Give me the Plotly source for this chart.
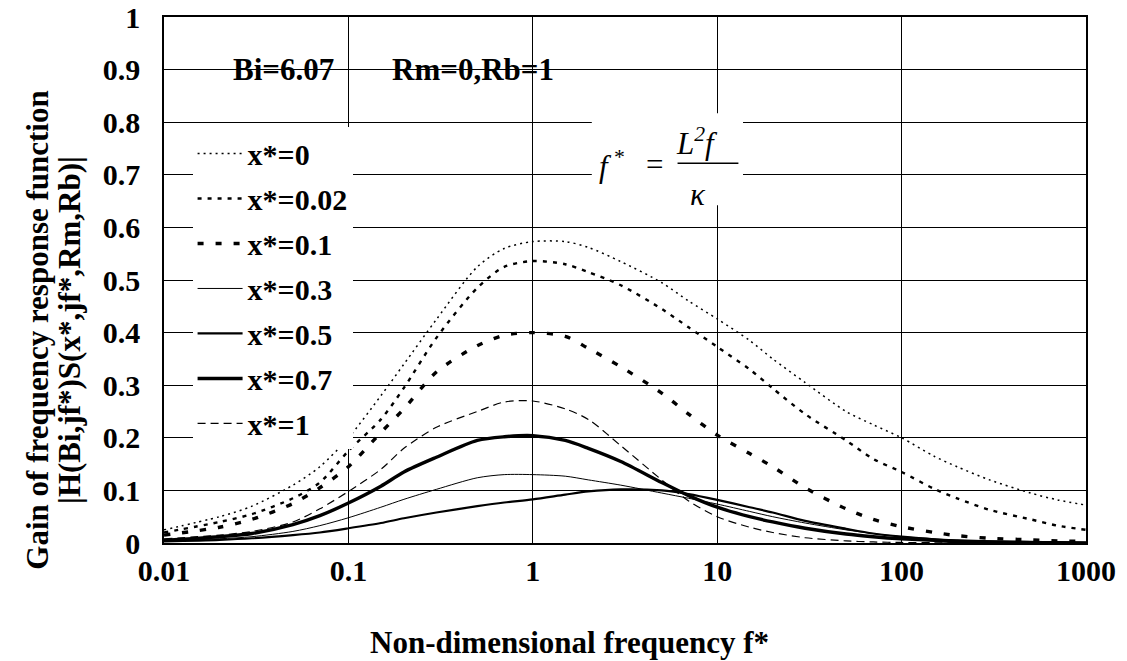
import plotly.graph_objects as go

f_star = [0.01, 0.02, 0.03, 0.05, 0.07, 0.1, 0.15, 0.2, 0.3, 0.5, 0.7, 1, 1.5, 2, 3, 5, 7,
          10, 15, 20, 30, 50, 70, 100, 150, 200, 300, 500, 700, 1000]

gain_x0 = [0.025, 0.05, 0.07, 0.11, 0.145, 0.20, 0.28, 0.34, 0.425, 0.525, 0.56, 0.573, 0.573,
           0.562, 0.535, 0.495, 0.46, 0.426, 0.385, 0.35, 0.305, 0.25, 0.225, 0.20, 0.165,
           0.145, 0.12, 0.095, 0.082, 0.072]
gain_x002 = [0.02, 0.04, 0.055, 0.085, 0.115, 0.175, 0.235, 0.295, 0.39, 0.485, 0.525, 0.536,
             0.53, 0.515, 0.49, 0.445, 0.41, 0.373, 0.33, 0.294, 0.245, 0.195, 0.16, 0.135,
             0.103, 0.085, 0.063, 0.045, 0.033, 0.025]
gain_x01 = [0.015, 0.03, 0.045, 0.075, 0.105, 0.145, 0.21, 0.255, 0.325, 0.375, 0.395, 0.40,
            0.393, 0.37, 0.335, 0.285, 0.245, 0.205, 0.17, 0.145, 0.105, 0.065, 0.045, 0.031,
            0.02, 0.014, 0.009, 0.006, 0.004, 0.003]
gain_x03 = [0.004, 0.008, 0.012, 0.022, 0.033, 0.048, 0.068, 0.083, 0.102, 0.124, 0.13, 0.13,
            0.127, 0.12, 0.11, 0.095, 0.085, 0.074, 0.06, 0.05, 0.038, 0.025, 0.018, 0.012,
            0.008, 0.005, 0.003, 0.0015, 0.001, 0.0005]
gain_x05 = [0.003, 0.006, 0.009, 0.015, 0.02, 0.028, 0.038, 0.047, 0.058, 0.07, 0.077, 0.083,
            0.092, 0.098, 0.102, 0.10, 0.093, 0.082, 0.068, 0.058, 0.042, 0.027, 0.018, 0.012,
            0.007, 0.005, 0.003, 0.0015, 0.001, 0.0005]
gain_x07 = [0.005, 0.012, 0.018, 0.035, 0.052, 0.076, 0.108, 0.135, 0.163, 0.195, 0.202, 0.204,
            0.195, 0.18, 0.155, 0.115, 0.09, 0.068, 0.05, 0.04, 0.028, 0.017, 0.012, 0.008,
            0.005, 0.003, 0.002, 0.001, 0.0005, 0.0003]
gain_x1 = [0.008, 0.015, 0.022, 0.04, 0.065, 0.098, 0.14, 0.18, 0.22, 0.25, 0.268, 0.27, 0.255,
           0.235, 0.185, 0.12, 0.08, 0.05, 0.03, 0.02, 0.01, 0.004, 0.002, 0.001, 0.0005,
           0.0003, 0.0002, 0.0001, 0.0001, 0.0001]

series_names = ["x*=0", "x*=0.02", "x*=0.1", "x*=0.3", "x*=0.5", "x*=0.7", "x*=1"]
series_values = [gain_x0, gain_x002, gain_x01, gain_x03, gain_x05, gain_x07, gain_x1]
series_styles = [
    dict(width=1.5, dash="2px,4px"),
    dict(width=2.4, dash="4px,6px"),
    dict(width=3.4, dash="6px,12px"),
    dict(width=1.0, dash="solid"),
    dict(width=2.2, dash="solid"),
    dict(width=3.4, dash="solid"),
    dict(width=1.2, dash="8px,5px"),
]

x_tick_vals = [0.01, 0.1, 1, 10, 100, 1000]
x_tick_text = ["0.01", "0.1", "1", "10", "100", "1000"]
y_tick_vals = [0, 0.1, 0.2, 0.3, 0.4, 0.5, 0.6, 0.7, 0.8, 0.9, 1]
y_tick_text = ["0", "0.1", "0.2", "0.3", "0.4", "0.5", "0.6", "0.7", "0.8", "0.9", "1"]

x_title = "Non-dimensional frequency f*"
y_title_lines = ["Gain of frequency response function", "|H(Bi,jf*)S(x*,jf*,Rm,Rb)|"]

SERIF = "Liberation Serif"

fig = go.Figure()
for i, (name, vals, st) in enumerate(zip(series_names, series_values, series_styles)):
    fig.add_trace(go.Scatter(
        x=f_star, y=vals, mode="lines", name=name, legendgroup=f"g{i}",
        line=dict(color="black", width=st["width"], dash=st["dash"], shape="spline",
                  smoothing=0.8),
    ))

# white box behind the formula
fig.add_shape(type="rect", xref="paper", yref="paper", x0=0.464, x1=0.628, y0=0.642, y1=0.817,
              fillcolor="white", line=dict(width=0), layer="above")
# fraction bar
fig.add_shape(type="line", xref="paper", yref="paper", x0=0.557, x1=0.623, y0=0.722, y1=0.722,
              line=dict(color="black", width=1.5), layer="above")

bold_font = dict(family=SERIF, size=31, color="black", weight="bold")
it_font = dict(family=SERIF, size=31, color="black", style="italic")


def note(text, x, y, font, xanchor="center", yanchor="middle", yref="paper", angle=0):
    fig.add_annotation(x=x, y=y, xref="paper", yref=yref, text=text, showarrow=False,
                       font=font, xanchor=xanchor, yanchor=yanchor, textangle=angle)


note("Bi=6.07", 0.13, 0.9, bold_font, yref="y")
note("Rm=0,Rb=1", 0.335, 0.9, bold_font, yref="y")
note("f<sup> *</sup>", 0.485, 0.76, it_font, yanchor="top")
note("=", 0.532, 0.756, dict(family=SERIF, size=31, color="black"), yanchor="top")
note("L<sup>2</sup>f", 0.578, 0.804, it_font, yanchor="top")
note("κ", 0.579, 0.663, it_font)

# axis titles
note(x_title, 0.44, -0.19, bold_font)
ytitle_font = dict(family=SERIF, size=31, color="black", weight="bold")
note(y_title_lines[0], -0.137, 0.405, ytitle_font, angle=-90)
note(y_title_lines[1], -0.102, 0.405, ytitle_font, angle=-90)

fig.update_layout(
    width=1127, height=661,
    margin=dict(l=164, r=41, t=17, b=118),
    paper_bgcolor="white", plot_bgcolor="white",
    font=dict(family=SERIF, size=30, color="black"),
    showlegend=True,
    legend=dict(x=0.031, y=0.79, xanchor="left", yanchor="top", bgcolor="white",
                borderwidth=0, font=dict(family=SERIF, size=30, color="black", weight="bold"),
                tracegroupgap=3, itemwidth=45),
    xaxis=dict(type="log", range=[-2, 3], tickvals=x_tick_vals, ticktext=x_tick_text,
               showgrid=True, gridcolor="black", gridwidth=1.3, ticks="", automargin=False,
               tickfont=dict(family=SERIF, size=30, color="black", weight="bold"),
               showline=True, linecolor="black", linewidth=1.5, mirror=True, zeroline=False),
    yaxis=dict(range=[0, 1], tickvals=y_tick_vals, ticktext=y_tick_text, automargin=False,
               showgrid=True, gridcolor="black", gridwidth=1.3, ticks="",
               tickfont=dict(family=SERIF, size=30, color="black", weight="bold"),
               showline=True, linecolor="black", linewidth=1.5, mirror=True, zeroline=False,
               ticklabelstandoff=16),
)

fig.write_html("out.html")
